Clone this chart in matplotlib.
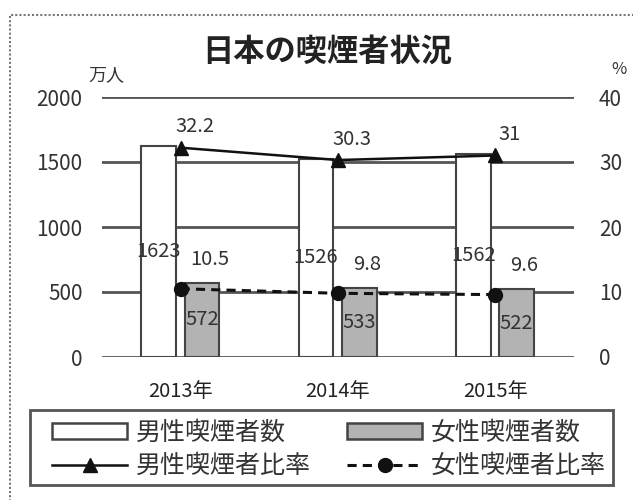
import matplotlib
matplotlib.use("Agg")
import matplotlib.pyplot as plt
from matplotlib.patches import Rectangle, Patch
from matplotlib.lines import Line2D
import numpy as np

plt.rcParams['font.family'] = ['Noto Sans CJK JP', 'DejaVu Sans']

years = ['2013年', '2014年', '2015年']
male_count = [1623, 1526, 1562]
female_count = [572, 533, 522]
male_rate = [32.2, 30.3, 31]
female_rate = [10.5, 9.8, 9.6]
left_ticks = [0, 500, 1000, 1500, 2000]
right_ticks = [0, 10, 20, 30, 40]

W, H = 633, 500
fig = plt.figure(figsize=(W / 100, H / 100), dpi=100)
ax = fig.add_axes([102/W, 1-357/H, 472/W, 260/H])
ax2 = ax.twinx()

x = np.arange(len(years))
w = 0.22
grid_c = '#555555'
txt_c = '#333333'
for t in left_ticks:
    ax.axhline(t, color=grid_c, lw=2.0, zorder=0)

ax.bar(x - 0.14, male_count, w, color='white', edgecolor='#444444', lw=1.5, zorder=2)
ax.bar(x + 0.135, female_count, w, color='#b3b3b3', edgecolor='#444444', lw=1.5, zorder=2)

ax.set_xlim(-0.5, 2.5)
ax.set_ylim(0, 2000)
ax2.set_ylim(0, 40)
ax.set_yticks(left_ticks)
ax2.set_yticks(right_ticks)
ax.set_xticks(x)
ax.set_xticklabels(years, fontsize=14.5, color='#222222')
ax.tick_params(axis='x', length=0, pad=17)
ax.tick_params(axis='y', length=0, pad=14, labelsize=15, labelcolor=txt_c)
ax2.tick_params(axis='y', length=0, pad=18, labelsize=15, labelcolor=txt_c)
for a in (ax, ax2):
    for s in a.spines.values():
        s.set_visible(False)

male_style = dict(color='#111111', lw=1.8, marker='^', ms=10)
female_style = dict(color='#111111', lw=2.2, ls=(0, (3, 2)), marker='o', ms=10)
ax2.plot(x, male_rate, zorder=5, **male_style)
ax2.plot(x, female_rate, zorder=5, **female_style)

for i in range(len(years)):
    ax.text(x[i] - 0.14, male_count[i] / 2, str(male_count[i]), ha='center', va='center',
            fontsize=14.5, color=txt_c, zorder=6)
    ax.text(x[i] + 0.135, female_count[i] / 2, str(female_count[i]), ha='center', va='center',
            fontsize=14.5, color=txt_c, zorder=6)
    ax2.annotate(f"{male_rate[i]:g}", (x[i], male_rate[i]), xytext=(10, 15), textcoords='offset points',
                 ha='center', va='center', fontsize=14.5, color=txt_c)
    ax2.annotate(f"{female_rate[i]:g}", (x[i], female_rate[i]), xytext=(21, 21), textcoords='offset points',
                 ha='center', va='center', fontsize=14.5, color=txt_c)

fig.text(327/W, 1-52/H, '日本の喫煙者状況', ha='center', va='center', fontsize=22.5, fontweight='bold', color='#222222')
fig.text(106/W, 1-75/H, '万人', ha='center', va='center', fontsize=13, color=txt_c)
fig.text(619/W, 1-69/H, '%', ha='center', va='center', fontsize=12, color=txt_c)

handles = [
    Patch(facecolor='white', edgecolor='#444444', lw=1.8),
    Line2D([], [], **male_style),
    Patch(facecolor='#b3b3b3', edgecolor='#444444', lw=1.8),
    Line2D([], [], **female_style),
]
labels = ['男性喫煙者数', '男性喫煙者比率', '女性喫煙者数', '女性喫煙者比率']
leg = fig.legend(handles, labels, ncol=2, loc='center left',
                 bbox_to_anchor=(52/W, 1-449.5/H), fontsize=18, handlelength=3.0, handleheight=0.6,
                 frameon=False, borderpad=0, borderaxespad=0, labelspacing=0.3, columnspacing=1.45,
                 handletextpad=0.35)
for t in leg.get_texts():
    t.set_color(txt_c)
fig.add_artist(Rectangle((30/W, 1-485/H), 583/W, 75/H, transform=fig.transFigure, fill=False,
                         edgecolor='#555555', lw=2.0))

fig.add_artist(Rectangle((10/W, -0.01), 0.99, 1.01-15/H, transform=fig.transFigure, fill=False,
                         edgecolor='#777777', lw=1.5, ls=(0, (1, 1))))

fig.savefig('out.png', dpi=100)
